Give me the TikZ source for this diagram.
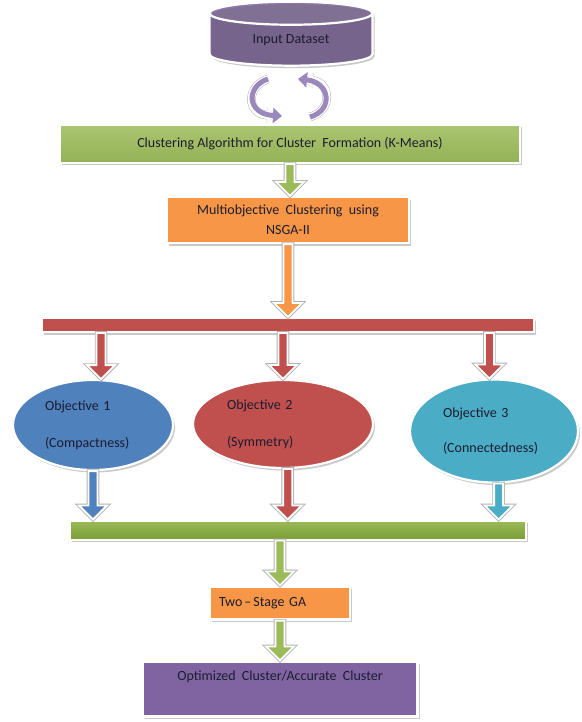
\documentclass[tikz,border=0pt]{standalone}
\usepackage{fontspec}
\setmainfont{Carlito}
\usetikzlibrary{shapes.geometric,arrows.meta,shadows,calc}
\definecolor{cpurple}{HTML}{8064A2}
\definecolor{cpurpleL}{HTML}{9A88BC}
\definecolor{cgreen}{HTML}{9BBB59}
\definecolor{cgreenD}{HTML}{7A9E36}
\definecolor{corange}{HTML}{F79646}
\definecolor{cred}{HTML}{C0504D}
\definecolor{cblue}{HTML}{4F81BD}
\definecolor{caqua}{HTML}{4BACC6}
\definecolor{ctext}{HTML}{1C1C30}
% block arrow pointing down, from #2 to #3, in colour #1
\newcommand\blkarrow[3]{%
  \path[fill=#1, draw=white, line width=1.8pt, line join=miter,
        preaction={draw=black!30, line width=3.6pt}]
    let \p1=(#2), \p2=(#3) in
    (\x1-4.5pt,\y1) -- (\x1+4.5pt,\y1) -- (\x1+4.5pt,\y2+14pt) -- (\x2+14pt,\y2+14pt)
    -- (\x2,\y2) -- (\x2-14pt,\y2+14pt) -- (\x1-4.5pt,\y2+14pt) -- cycle;}
\begin{document}
\begin{tikzpicture}[x=1pt,y=-1pt,
  font=\fontsize{14}{17}\selectfont,
  every node/.style={text=ctext},
  shad/.style={drop shadow={shadow xshift=2pt,shadow yshift=-2.5pt,opacity=0.35,fill=black!60}},
  box/.style={rectangle, draw=white, line width=2.2pt, inner sep=0pt, shad},
  obj/.style={ellipse, draw=white, line width=2.2pt, inner sep=0pt, align=left, shad},
  bar/.style={rectangle, draw=white, line width=2pt, inner sep=0pt, shad},
  cyc/.style={line width=5pt, draw=cpurpleL, -{Triangle[length=9pt,width=15pt]},
    preaction={draw=black!30, line width=8.5pt, shorten >=6pt},
    preaction={draw=white, line width=7.5pt, shorten >=6pt}},
]
\useasboundingbox[fill=white] (0,0) rectangle (581,722);

% input dataset cylinder
\node[cylinder, shape border rotate=90, aspect=0.3, minimum width=163pt, minimum height=64pt,
      draw=white, line width=2.2pt, cylinder uses custom fill, cylinder body fill=cpurple,
      cylinder end fill=cpurple!88!white, inner sep=0pt, shad] (input) at (291,40) {Input Dataset};

% circular arrows
\coordinate (c1s) at (268,79);
\coordinate (c1e) at (282,116);
\coordinate (c2s) at (310,117);
\coordinate (c2e) at (298,79);
\draw[cyc] (c1s) .. controls (246,86) and (246,114) .. (c1e);
\draw[cyc] (c2s) .. controls (334,110) and (330,82) .. (c2e);

% boxes
\node[box, shading=axis, top color=cgreen!85!white, bottom color=cgreen!95!black,
      minimum width=460pt, minimum height=38pt] (kmeans) at (290,144)
      {Clustering\ Algorithm\ for Cluster\ \ Formation (K-Means)};
\node[box, fill=corange, minimum width=242pt, minimum height=46pt, align=center] (ml) at (288,220)
      {Multiobjective\ \ Clustering\ \ using\\[3pt]NSGA-II};

% red bar
\node[bar, fill=cred, minimum width=492pt, minimum height=14pt] (rbar) at (288,325) {};

% objectives
\node[obj, fill=cblue, minimum width=160pt, minimum height=90pt, text width=96pt] (o1) at (93,425)
      {Objective 1\\[20pt](Compactness)};
\node[obj, fill=cred, minimum width=180pt, minimum height=88pt, text width=112pt] (o2) at (283,424)
      {Objective 2\\[20pt](Symmetry)};
\node[obj, fill=caqua, minimum width=168pt, minimum height=103pt, text width=102pt] (o3) at (494,431)
      {Objective 3\\[18pt](Connectedness)};

% green bar
\node[bar, shading=axis, top color=cgreen, bottom color=cgreenD,
      minimum width=456pt, minimum height=19pt] (gbar) at (298,530) {};

% two stage GA
\node[box, fill=corange, minimum width=140pt, minimum height=33pt, text width=122pt, align=left]
      (ga) at (280,603) {Two\hspace{2pt}--\hspace{2pt}Stage GA};

% output
\node[box, fill=cpurple, minimum width=275pt, minimum height=55pt, text depth=26pt]
      (out) at (280,689) {Optimized\ \ Cluster/Accurate\ \ Cluster};

% connectors
\blkarrow{cgreen}{kmeans.south}{kmeans.south |- ml.north}
\blkarrow{corange}{ml.south}{ml.south |- rbar.north}
\blkarrow{cred}{rbar.south -| o1.80}{o1.80}
\blkarrow{cred}{rbar.south -| o2.north}{o2.north}
\blkarrow{cred}{rbar.south -| o3.95}{o3.95}
\blkarrow{cblue}{o1.south}{o1.south |- gbar.north}
\blkarrow{cred}{o2.-84}{o2.-84 |- gbar.north}
\blkarrow{caqua}{o3.-85}{o3.-85 |- gbar.north}
\blkarrow{cgreen}{gbar.south -| ga.north}{ga.north}
\blkarrow{cgreen}{ga.south}{ga.south |- out.north}
\end{tikzpicture}
\end{document}
